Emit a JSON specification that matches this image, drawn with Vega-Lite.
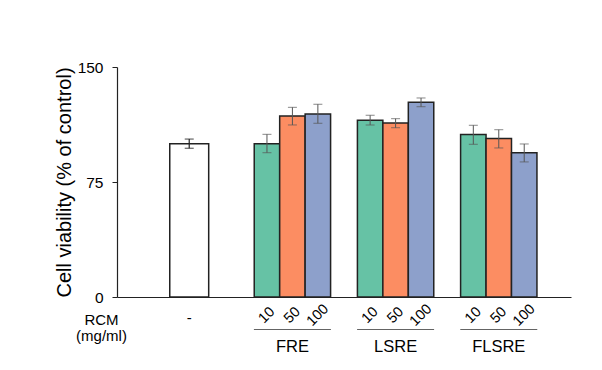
{
  "$schema": "https://vega.github.io/schema/vega-lite/v6.json",
  "width": 454,
  "height": 230,
  "autosize": {"type": "none"},
  "padding": {"left": 117, "top": 67, "right": 31, "bottom": 73},
  "background": "white",
  "config": {"font": "Liberation Sans", "view": {"stroke": null}},
  "datasets": {
    "control": [{"group": "Control", "label": "-", "value": 100, "lo": 97, "hi": 103}],
    "treat": [
      {"group": "FRE", "dose": "10", "value": 100, "lo": 94.1, "hi": 106.1},
      {"group": "FRE", "dose": "50", "value": 118, "lo": 112.2, "hi": 123.7},
      {"group": "FRE", "dose": "100", "value": 119.4, "lo": 113.3, "hi": 125.7},
      {"group": "LSRE", "dose": "10", "value": 115.2, "lo": 112.2, "hi": 118.5},
      {"group": "LSRE", "dose": "50", "value": 113.5, "lo": 110.4, "hi": 116.3},
      {"group": "LSRE", "dose": "100", "value": 127, "lo": 124.1, "hi": 129.8},
      {"group": "FLSRE", "dose": "10", "value": 106, "lo": 99.6, "hi": 112},
      {"group": "FLSRE", "dose": "50", "value": 103.3, "lo": 97.2, "hi": 109.1},
      {"group": "FLSRE", "dose": "100", "value": 94, "lo": 88.1, "hi": 99.8}
    ],
    "groups": [{"group": "FRE"}, {"group": "LSRE"}, {"group": "FLSRE"}]
  },
  "encoding": {
    "x": {
      "field": "group",
      "type": "nominal",
      "scale": {"domain": ["Control", "FRE", "LSRE", "FLSRE"], "paddingInner": 0.26, "paddingOuter": 0.33},
      "axis": {
        "labelExpr": "datum.value == 'Control' ? '' : datum.value",
        "labelAngle": 0,
        "labelFontSize": 16.5,
        "labelColor": "black",
        "labelPadding": 41,
        "ticks": false,
        "tickSize": 0,
        "domainColor": "#222",
        "domainWidth": 1.2,
        "title": ["RCM", "(mg/ml)"],
        "titleFontSize": 15,
        "titleFontWeight": "normal",
        "titleColor": "black",
        "titleX": -16,
        "titleY": 15,
        "titleBaseline": "top",
        "titleAlign": "center",
        "titleAngle": 0,
        "titleLineHeight": 16
      }
    }
  },
  "layer": [
    {
      "data": {"name": "control"},
      "mark": {"type": "bar", "width": {"band": 0.51}, "fill": "white", "stroke": "#222", "strokeWidth": 1.5},
      "encoding": {
        "y": {
          "field": "value",
          "type": "quantitative",
          "scale": {"domain": [0, 150], "nice": false},
          "axis": {
            "values": [0, 75, 150],
            "grid": false,
            "labelFontSize": 15.5,
            "labelColor": "black",
            "labelPadding": 9,
            "tickSize": 5,
            "tickColor": "#222",
            "domainColor": "#222",
            "domainWidth": 1.2,
            "title": "Cell viability (% of control)",
            "titleFontSize": 20,
            "titleFontWeight": "normal",
            "titleColor": "black",
            "titlePadding": 3
          }
        }
      }
    },
    {
      "data": {"name": "control"},
      "mark": {"type": "rule", "color": "#222", "strokeWidth": 1.2},
      "encoding": {"y": {"field": "lo", "type": "quantitative"}, "y2": {"field": "hi"}}
    },
    {
      "data": {"name": "control"},
      "transform": [{"fold": ["lo", "hi"], "as": ["end", "ev"]}],
      "mark": {"type": "tick", "orient": "horizontal", "color": "#222", "size": 9, "thickness": 1.2},
      "encoding": {"y": {"field": "ev", "type": "quantitative"}}
    },
    {
      "data": {"name": "treat"},
      "mark": {"type": "bar", "stroke": "#222", "strokeWidth": 1.5},
      "encoding": {
        "xOffset": {"field": "dose", "type": "nominal", "scale": {"domain": ["10", "50", "100"], "paddingInner": 0, "paddingOuter": 0}},
        "y": {"field": "value", "type": "quantitative"},
        "color": {"field": "dose", "type": "nominal", "scale": {"domain": ["10", "50", "100"], "range": ["#66C2A5", "#FC8D62", "#8DA0CB"]}, "legend": null}
      }
    },
    {
      "data": {"name": "treat"},
      "mark": {"type": "rule", "color": "#555", "strokeWidth": 1},
      "encoding": {
        "xOffset": {"field": "dose", "type": "nominal"},
        "y": {"field": "lo", "type": "quantitative"},
        "y2": {"field": "hi"}
      }
    },
    {
      "data": {"name": "treat"},
      "transform": [{"fold": ["lo", "hi"], "as": ["end", "ev"]}],
      "mark": {"type": "tick", "orient": "horizontal", "color": "#555", "size": 9, "thickness": 1},
      "encoding": {
        "xOffset": {"field": "dose", "type": "nominal"},
        "y": {"field": "ev", "type": "quantitative"}
      }
    },
    {
      "data": {"name": "treat"},
      "mark": {"type": "text", "angle": 315, "align": "center", "baseline": "middle", "fontSize": 14.5, "color": "black"},
      "encoding": {
        "xOffset": {"field": "dose", "type": "nominal"},
        "y": {"datum": -12},
        "text": {"field": "dose"}
      }
    },
    {
      "data": {"name": "control"},
      "mark": {"type": "text", "align": "center", "baseline": "middle", "fontSize": 15, "color": "black"},
      "encoding": {
        "y": {"datum": -13.7},
        "text": {"field": "label"}
      }
    },
    {
      "data": {"name": "groups"},
      "mark": {"type": "tick", "orient": "horizontal", "color": "#222", "size": 77, "thickness": 1.2},
      "encoding": {"y": {"datum": -21.2}}
    }
  ]
}
